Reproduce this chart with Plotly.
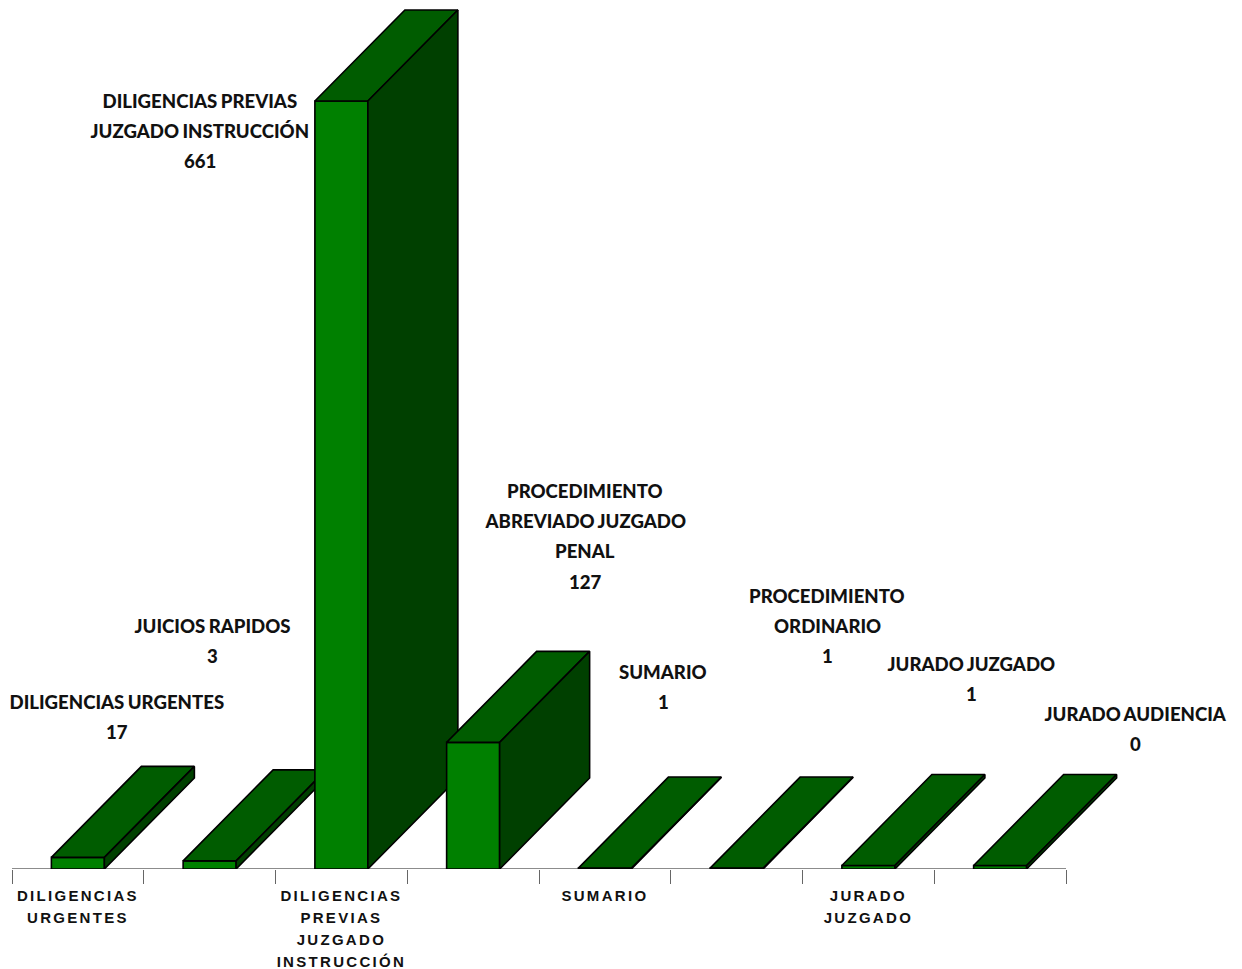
import plotly.graph_objects as go

# Data
categories = ["DILIGENCIAS URGENTES", "JUICIOS RAPIDOS", "DILIGENCIAS PREVIAS JUZGADO INSTRUCCIÓN",
              "PROCEDIMIENTO ABREVIADO JUZGADO PENAL", "SUMARIO", "PROCEDIMIENTO ORDINARIO",
              "JURADO JUZGADO", "JURADO AUDIENCIA"]
label_values = [17, 3, 661, 127, 1, 1, 1, 0]          # values printed in the data labels
drawn_heights = [10, 7, 661, 109, 0.8, 0.8, 3, 3]     # bar heights as drawn, on the 661 scale
tick_labels = ["DILIGENCIAS<br>URGENTES", "", "DILIGENCIAS<br>PREVIAS<br>JUZGADO<br>INSTRUCCIÓN", "",
               "SUMARIO", "", "JURADO<br>JUZGADO", ""]
label_lines = [["DILIGENCIAS URGENTES"], ["JUICIOS RAPIDOS"],
               ["DILIGENCIAS PREVIAS", "JUZGADO INSTRUCCIÓN"],
               ["PROCEDIMIENTO", "ABREVIADO JUZGADO", "PENAL"], ["SUMARIO"],
               ["PROCEDIMIENTO", "ORDINARIO"], ["JURADO JUZGADO"], ["JURADO AUDIENCIA"]]

# Layout and style
W, H, BASE_PX = 1242, 969, 869
AXIS_LEFT_PX, AXIS_RIGHT_PX = 12, 1066
SLOT_PX = (AXIS_RIGHT_PX - AXIS_LEFT_PX) / len(categories)
PX_PER_UNIT = 768 / 661
BAR_W = 53 / SLOT_PX
DEPTH_X = 90 / SLOT_PX
DEPTH_Y = 91 / PX_PER_UNIT
FRONT, TOP, SIDE = "#008000", "#005C00", "#004000"
X_RANGE = [-0.5 - AXIS_LEFT_PX / SLOT_PX, -0.5 + (W - AXIS_LEFT_PX) / SLOT_PX]
Y_RANGE = [0, BASE_PX / PX_PER_UNIT]
label_anchor_px = [(117, 702), (212, 626), (200, 101), (585, 491), (663, 672), (827, 596), (971, 664), (1135, 714)]
LINE_PX = 30.2

fig = go.Figure()
line = dict(color="black", width=1.6)
for i, h in enumerate(drawn_heights):
    suffix = "" if i == 0 else str(i + 1)
    xa, ya = "x" + suffix, "y" + suffix
    left, right = i - BAR_W / 2, i + BAR_W / 2
    fig.add_trace(go.Bar(x=[i], y=[h], width=BAR_W, name=categories[i], xaxis=xa, yaxis=ya,
                         marker=dict(color=FRONT, line=line), cliponaxis=False,
                         hovertemplate=f"{categories[i]}: {label_values[i]}<extra></extra>"))
    fig.add_trace(go.Scatter(x=[left, left + DEPTH_X, right + DEPTH_X, right, left],
                             y=[h, h + DEPTH_Y, h + DEPTH_Y, h, h],
                             mode="lines", fill="toself", fillcolor=TOP, line=line,
                             xaxis=xa, yaxis=ya, cliponaxis=False, hoverinfo="skip"))
    fig.add_trace(go.Scatter(x=[right, right + DEPTH_X, right + DEPTH_X, right, right],
                             y=[0, DEPTH_Y, h + DEPTH_Y, h, 0],
                             mode="lines", fill="toself", fillcolor=SIDE, line=line,
                             xaxis=xa, yaxis=ya, cliponaxis=False, hoverinfo="skip"))
    if i > 0:
        fig.update_layout({
            f"xaxis{i + 1}": dict(overlaying="x", range=X_RANGE, visible=False),
            f"yaxis{i + 1}": dict(overlaying="y", range=Y_RANGE, visible=False, anchor=xa),
        })
    cx, top_px = label_anchor_px[i]
    for k, txt in enumerate(label_lines[i] + [str(label_values[i])]):
        fig.add_annotation(x=cx / W, y=(BASE_PX - (top_px + k * LINE_PX)) / BASE_PX,
                           xref="paper", yref="paper", xanchor="center", yanchor="middle",
                           text=txt, showarrow=False,
                           font=dict(family="Lato", size=18.6, color="#111111", weight=900))

# Axis baseline runs only across the category slots
fig.add_shape(type="line", xref="x", yref="y", x0=-0.5, x1=len(categories) - 0.5, y0=0, y1=0,
              line=dict(color="#666666", width=1.4), layer="below")

fig.update_layout(
    width=W, height=H, margin=dict(l=0, r=0, t=0, b=H - BASE_PX),
    paper_bgcolor="white", plot_bgcolor="white", showlegend=False, barmode="overlay",
    xaxis=dict(range=X_RANGE, showgrid=False, zeroline=False, showline=False,
               tickmode="array", tickvals=list(range(len(categories))), ticktext=tick_labels,
               ticks="", tickangle=0, ticklabelstandoff=16,
               tickfont=dict(family="Liberation Sans", size=15, color="#111111", weight="bold"),
               minor=dict(tickmode="array", tickvals=[i - 0.5 for i in range(len(categories) + 1)],
                          ticks="outside", ticklen=14, tickcolor="#666666", tickwidth=1, showgrid=False)),
    yaxis=dict(range=Y_RANGE, visible=False),
)

post = """
document.body.style.margin='0';
document.documentElement.style.overflow='hidden';
document.querySelectorAll('.xtick text').forEach(function(t){
  t.style.letterSpacing='2.3px';
  t.querySelectorAll('tspan.line').forEach(function(s,k){ s.setAttribute('dy',(k*22)+'px'); });
});
document.querySelectorAll('.annotation-text').forEach(function(t){ t.style.wordSpacing='-1px'; });
"""
fig.write_html("out.html", post_script=post, config={"displayModeBar": False})
